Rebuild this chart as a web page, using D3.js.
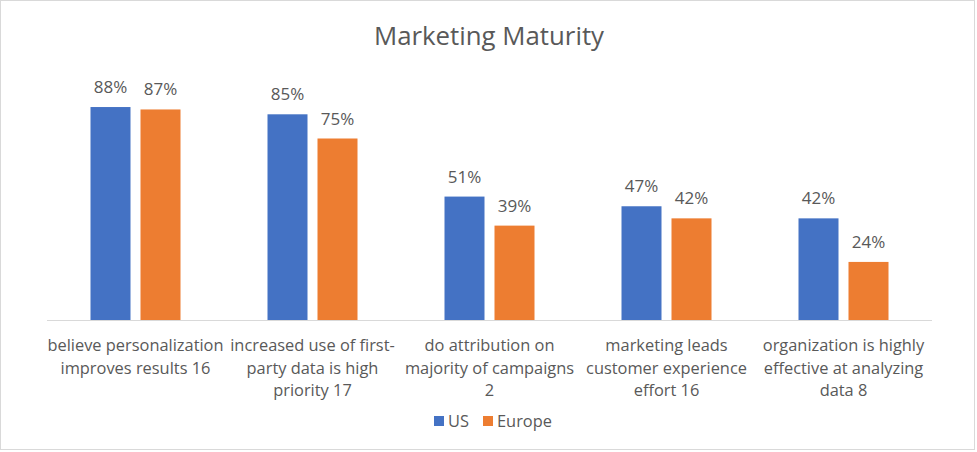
<!DOCTYPE html>
<html>
<head>
<meta charset="utf-8">
<script src="https://cdn.jsdelivr.net/npm/d3@7"></script>
<style>
  body { margin: 0; background: #fff; }
  text { font-family: "Open Sans", sans-serif; fill: #595959; }
</style>
</head>
<body>
<div id="chart"></div>
<script>
// Marketing Maturity, clustered columns US vs Europe

var categories = [
    ["believe personalization", "improves results 16"],
    ["increased use of first-", "party data is high", "priority 17"],
    ["do attribution on", "majority of campaigns", "2"],
    ["marketing leads", "customer experience", "effort 16"],
    ["organization is highly", "effective at analyzing", "data 8"]
];
var series = ["US", "Europe"];
var usValues = [88, 85, 51, 47, 42];
var europeValues = [87, 75, 39, 42, 24];
var colors = ["#4472C4", "#ED7D31"];

var width = 977, height = 452;
var baseline = 320;

var svg = d3.select("#chart")
    .append("svg")
    .attr("width", width)
    .attr("height", height);

// chart border
svg.append("rect")
    .attr("x", 0.5).attr("y", 0.5)
    .attr("width", 974).attr("height", 449)
    .attr("fill", "#fff")
    .attr("stroke", "#d9d9d9");

var x0 = d3.scaleBand()
    .domain(d3.range(categories.length))
    .range([47, 932]);

var x1 = d3.scaleBand()
    .domain(series)
    .range([0, x0.bandwidth()])
    .paddingInner(0.2)
    .paddingOuter(0.87);

var y = d3.scaleLinear()
    .domain([0, 100])
    .range([baseline, 78]);

var color = d3.scaleOrdinal().domain(series).range(colors);

var rows = categories.map(function(c, i) {
    return { i: i, values: [
        { key: "US", v: usValues[i] },
        { key: "Europe", v: europeValues[i] }
    ]};
});

svg.append("text")
    .attr("x", 489)
    .attr("y", 45)
    .attr("text-anchor", "middle")
    .style("font-size", "25.8px")
    .text("Marketing Maturity");

var groups = svg.append("g")
    .selectAll("g")
    .data(rows)
    .enter()
    .append("g")
    .attr("transform", function(d) { return "translate(" + x0(d.i) + ",0)"; });

groups.selectAll("rect")
    .data(function(d) { return d.values; })
    .enter()
    .append("rect")
    .attr("x", function(d) { return x1(d.key); })
    .attr("y", function(d) { return y(d.v); })
    .attr("width", x1.bandwidth())
    .attr("height", function(d) { return baseline - y(d.v); })
    .attr("fill", function(d) { return color(d.key); });

groups.selectAll("text.val")
    .data(function(d) { return d.values; })
    .enter()
    .append("text")
    .attr("class", "val")
    .attr("x", function(d) { return x1(d.key) + x1.bandwidth() / 2; })
    .attr("y", function(d) { return y(d.v) - 14; })
    .attr("text-anchor", "middle")
    .style("font-size", "17px")
    .text(function(d) { return d.v + "%"; });

// axis line
svg.append("line")
    .attr("x1", x0.range()[0]).attr("x2", x0.range()[1])
    .attr("y1", baseline + 0.5).attr("y2", baseline + 0.5)
    .attr("stroke", "#d9d9d9")
    .attr("stroke-width", 1);

// category labels
svg.append("g")
    .selectAll("text")
    .data(categories)
    .enter()
    .append("text")
    .attr("text-anchor", "middle")
    .style("font-size", "16.4px")
    .each(function(lines, i) {
        var cx = x0(i) + x0.bandwidth() / 2;
        d3.select(this).selectAll("tspan")
            .data(lines)
            .enter()
            .append("tspan")
            .attr("x", cx)
            .attr("y", function(l, j) { return 351 + j * 22.7; })
            .text(function(l) { return l; });
    });

// legend
var legendX = [434, 483];
var legend = svg.append("g")
    .selectAll("g")
    .data(series)
    .enter()
    .append("g")
    .attr("transform", function(d, i) { return "translate(" + legendX[i] + ",416)"; });

legend.append("rect")
    .attr("width", 10).attr("height", 10)
    .attr("fill", function(d) { return color(d); });

legend.append("text")
    .attr("x", 14)
    .attr("y", 10.5)
    .style("font-size", "16.4px")
    .text(function(d) { return d; });
</script>
</body>
</html>
